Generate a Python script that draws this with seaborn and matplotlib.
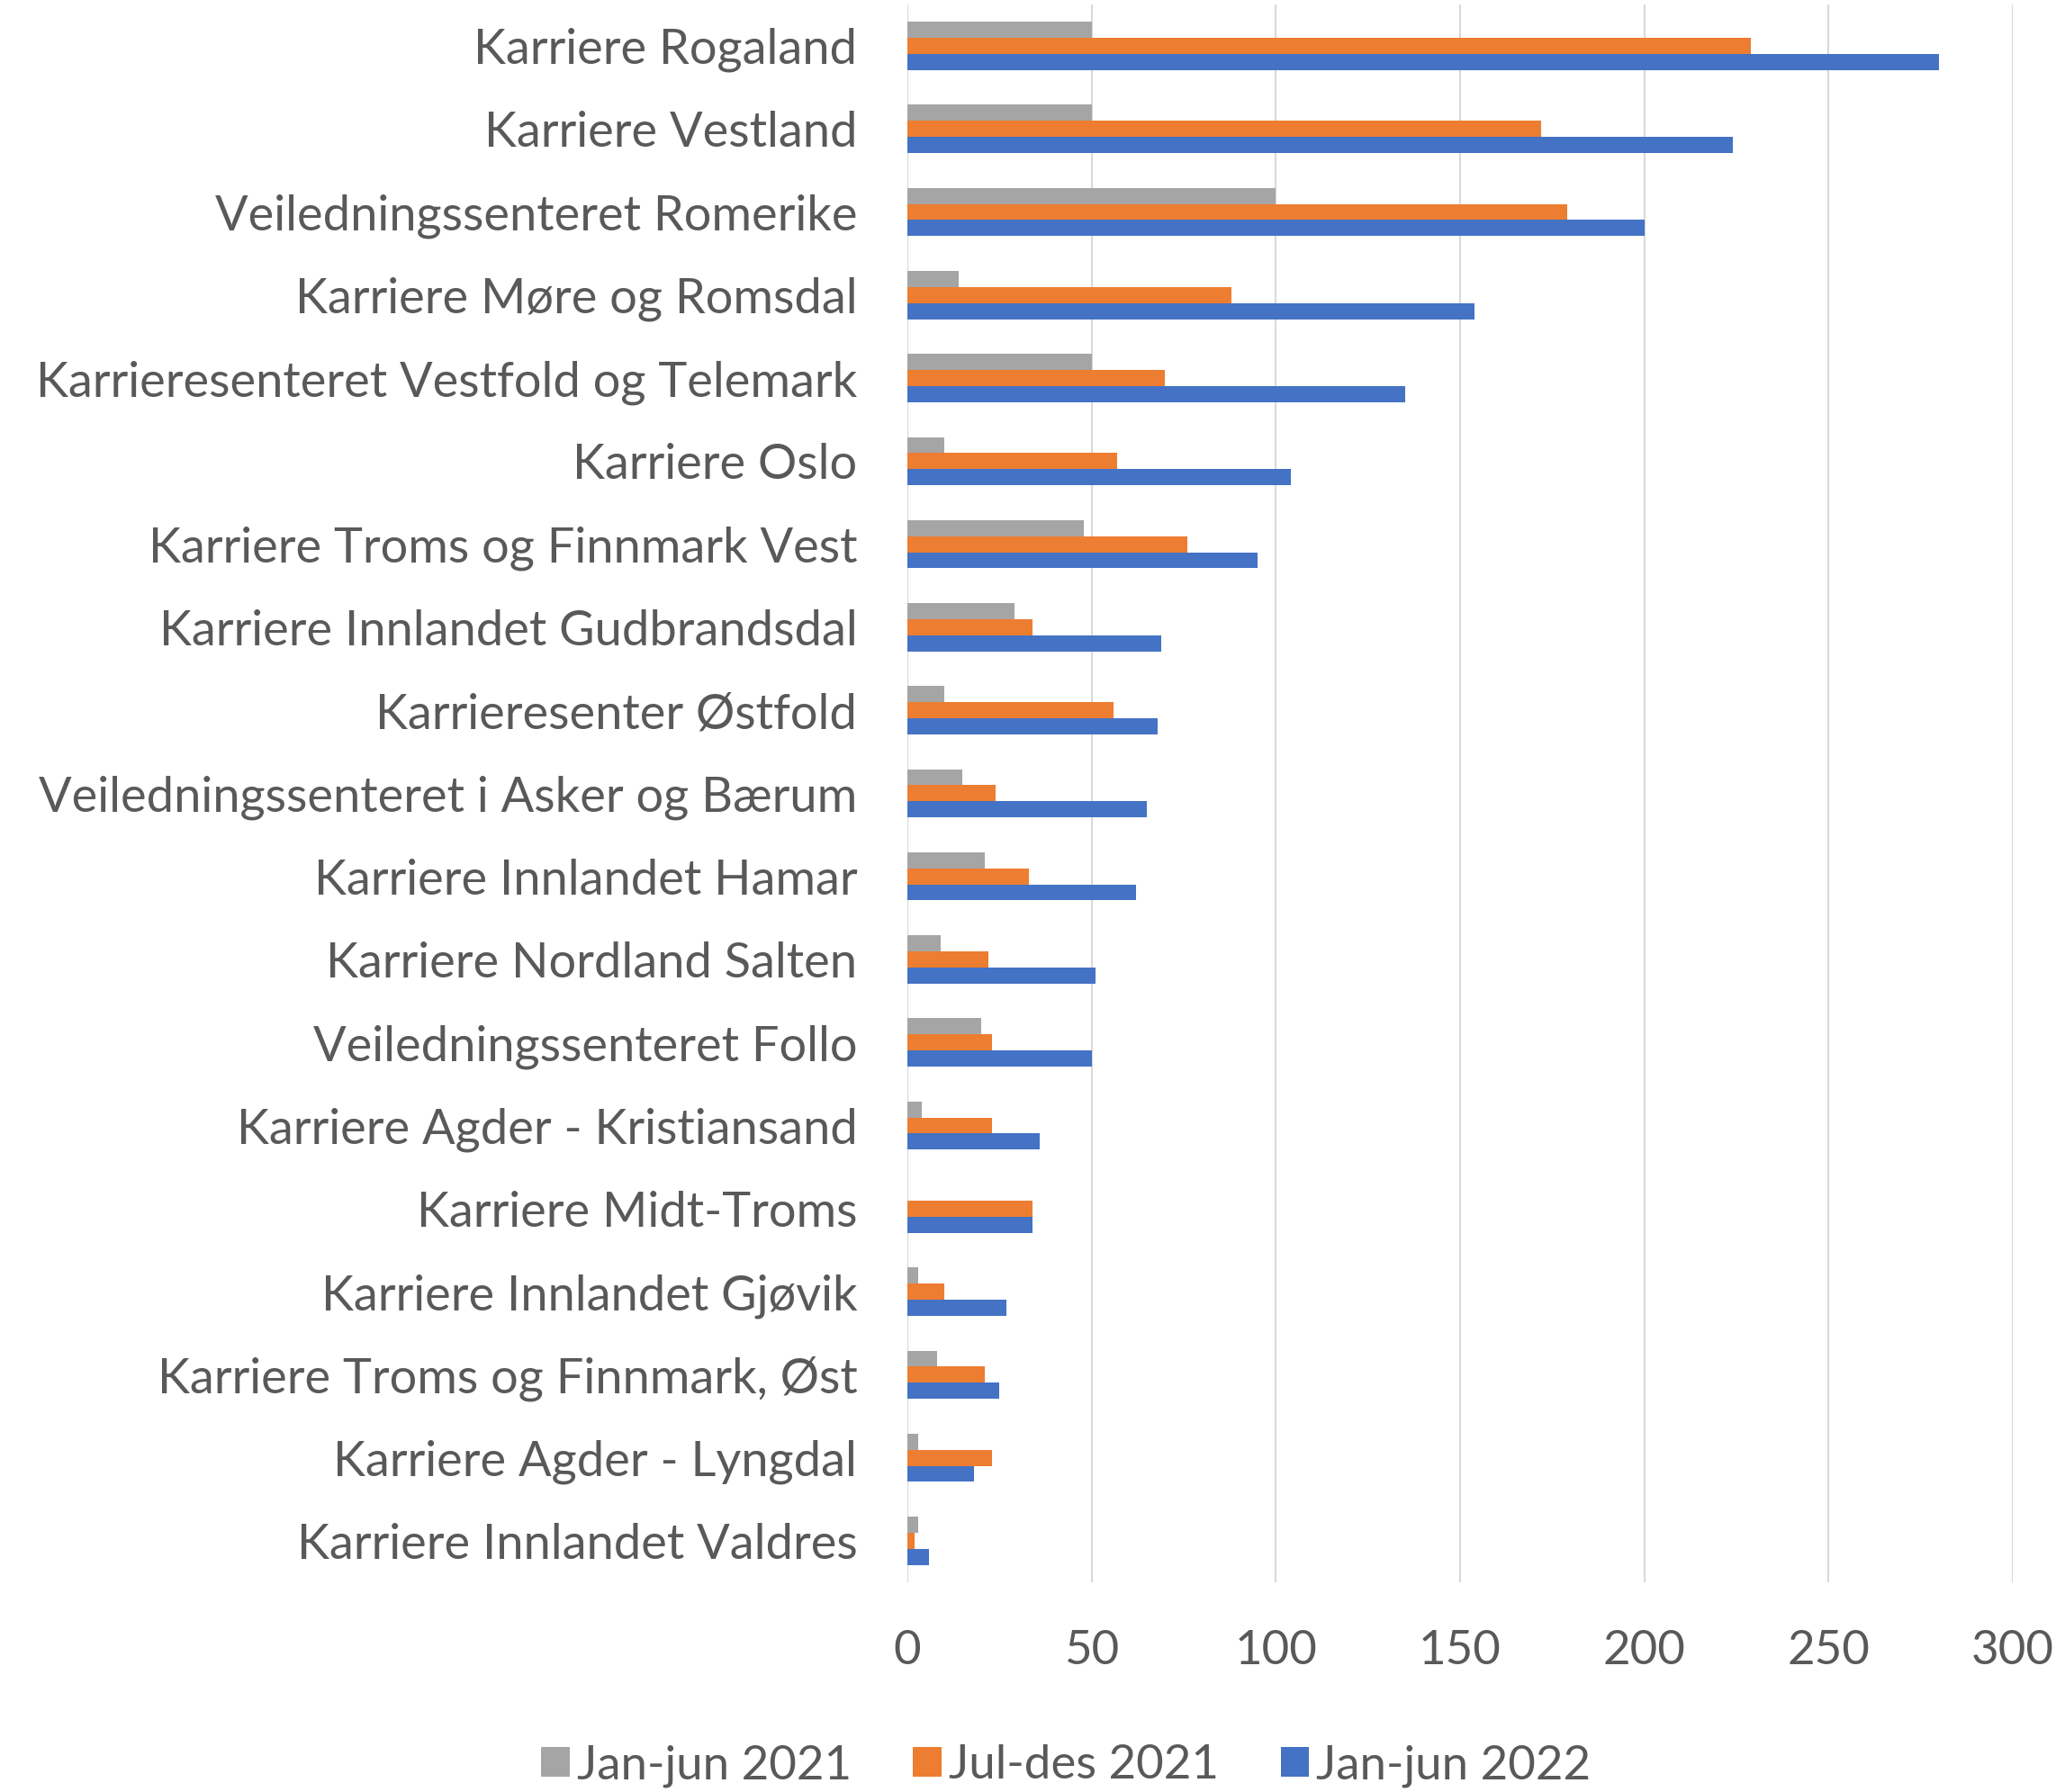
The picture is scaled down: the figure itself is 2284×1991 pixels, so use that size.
import matplotlib
matplotlib.use("Agg")
import matplotlib.pyplot as plt
import seaborn as sns
import pandas as pd
from matplotlib.patches import Patch

categories = [
    "Karriere Rogaland",
    "Karriere Vestland",
    "Veiledningssenteret Romerike",
    "Karriere Møre og Romsdal",
    "Karrieresenteret Vestfold og Telemark",
    "Karriere Oslo",
    "Karriere Troms og Finnmark Vest",
    "Karriere Innlandet Gudbrandsdal",
    "Karrieresenter Østfold",
    "Veiledningssenteret i Asker og Bærum",
    "Karriere Innlandet Hamar",
    "Karriere Nordland Salten",
    "Veiledningssenteret Follo",
    "Karriere Agder - Kristiansand",
    "Karriere Midt-Troms",
    "Karriere Innlandet Gjøvik",
    "Karriere Troms og Finnmark, Øst",
    "Karriere Agder - Lyngdal",
    "Karriere Innlandet Valdres",
]
series_names = ["Jan-jun 2021", "Jul-des 2021", "Jan-jun 2022"]
jan_jun_2021 = [50, 50, 100, 14, 50, 10, 48, 29, 10, 15, 21, 9, 20, 4, 0, 3, 8, 3, 3]
jul_des_2021 = [229, 172, 179, 88, 70, 57, 76, 34, 56, 24, 33, 22, 23, 23, 34, 10, 21, 23, 2]
jan_jun_2022 = [280, 224, 200, 154, 135, 104, 95, 69, 68, 65, 62, 51, 50, 36, 34, 27, 25, 18, 6]
x_ticks = [0, 50, 100, 150, 200, 250, 300]
colors = ["#A5A5A5", "#ED7D31", "#4472C4"]

rows = []
for name, vals in zip(series_names, [jan_jun_2021, jul_des_2021, jan_jun_2022]):
    for c, v in zip(categories, vals):
        rows.append({"Senter": c, "Periode": name, "Antall": v})
df = pd.DataFrame(rows)

sns.set_theme(style="white")
plt.rcParams["font.family"] = ["Lato", "DejaVu Sans"]

fig = plt.figure(figsize=(22.84, 19.91), dpi=100)
ax = fig.add_axes([0.4413, 0.117, 0.9790 - 0.4413, 0.9976 - 0.117])

sns.barplot(data=df, y="Senter", x="Antall", hue="Periode", order=categories,
            hue_order=series_names, palette=colors, orient="h", width=0.58,
            gap=0, saturation=1, ax=ax, legend=False, linewidth=0)

ax.set_xlim(0, 300)
ax.set_xticks(x_ticks)
ax.set_xlabel("")
ax.set_ylabel("")
ax.grid(axis="x", color="#D9D9D9", linewidth=1.5)
ax.grid(axis="y", visible=False)
ax.set_axisbelow(True)
for s in ax.spines.values():
    s.set_visible(False)
ax.tick_params(axis="y", length=0, pad=40, labelsize=39, labelcolor="#595959")
ax.tick_params(axis="x", length=0, pad=38, labelsize=38, labelcolor="#595959")

handles = [Patch(facecolor=c, edgecolor="none") for c in colors]
fig.legend(handles, series_names, loc="center", bbox_to_anchor=(813 / 1568, 1 - 1347 / 1367),
           ncol=3, frameon=False, fontsize=38, labelcolor="#595959",
           handlelength=0.6, handleheight=0.6, handletextpad=0.15, columnspacing=1.3)

fig.savefig("out.png", dpi=100, facecolor="white")
